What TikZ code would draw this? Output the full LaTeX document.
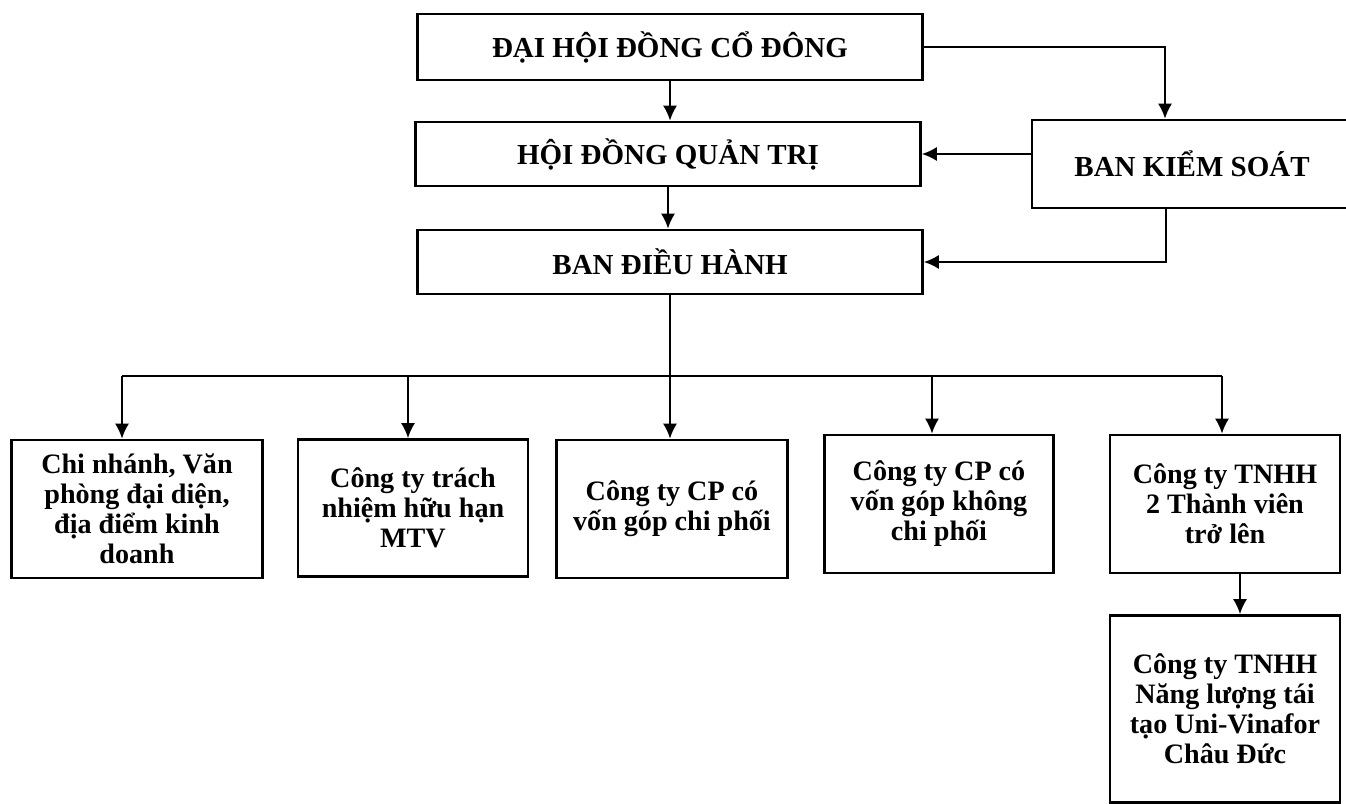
\documentclass[tikz,border=0pt]{standalone}
\usepackage{fontspec}
\setmainfont{Liberation Serif}
\usetikzlibrary{arrows.meta}
\tikzset{
  hop/.style={draw, line width=1.6pt, inner sep=0pt, font=\fontsize{16.5}{19}\selectfont\bfseries},
  donvi/.style={draw, line width=1.6pt, inner sep=0pt, align=center, font=\fontsize{16}{17.1}\selectfont\bfseries},
  noi/.style={line width=1.1pt, >={Latex[length=8.5pt,width=8pt]}},
}
\begin{document}
\begin{tikzpicture}[x=0.02cm,y=-0.02cm]
    \useasboundingbox (0,0) rectangle (1346,804);
    %cac ban
    \node[hop, minimum width=10.1cm, minimum height=1.32cm] (dhdcd) at (670,47) {ĐẠI HỘI ĐỒNG CỔ ĐÔNG};
    \node[hop, minimum width=10.1cm, minimum height=1.28cm] (hdqt) at (668,154) {HỘI ĐỒNG QUẢN TRỊ};
    \node[hop, minimum width=10.1cm, minimum height=1.28cm] (bdh) at (670,262) {BAN ĐIỀU HÀNH};
    \node[hop, minimum width=6.4cm, minimum height=1.76cm] (bks) at (1192,164) {BAN KIỂM SOÁT};
    %don vi
    \node[donvi, minimum width=5.02cm, minimum height=2.76cm] (chinhanh) at (137,509) {Chi nhánh, Văn\\phòng đại diện,\\địa điểm kinh\\doanh};
    \node[donvi, minimum width=4.6cm, minimum height=2.74cm] (mtv) at (413,508) {Công ty trách\\nhiệm hữu hạn\\MTV};
    \node[donvi, minimum width=4.62cm, minimum height=2.76cm] (cpcp) at (672,509) {Công ty CP có\\vốn góp chi phối};
    \node[donvi, minimum width=4.58cm, minimum height=2.76cm] (cpkcp) at (939,504) {Công ty CP có\\vốn góp không\\chi phối};
    \node[donvi, minimum width=4.6cm, minimum height=2.76cm] (tnhh) at (1225,504) {Công ty TNHH\\2 Thành viên\\trở lên};
    \node[donvi, minimum width=4.6cm, minimum height=3.74cm] (chauduc) at (1225,709) {Công ty TNHH\\Năng lượng tái\\tạo Uni-Vinafor\\Châu Đức};
    %mui ten tren
    \draw[noi,->] (dhdcd.south) -- (dhdcd.south |- hdqt.north);
    \draw[noi,->] (hdqt.south) -- (hdqt.south |- bdh.north);
    \draw[noi,->] (dhdcd.east) -| ([xshift=-0.54cm]bks.north);
    \draw[noi,->] (bks.west |- hdqt.east) -- (hdqt.east);
    \draw[noi,->] ([xshift=-0.52cm]bks.south) |- (bdh.east);
    %thanh ngang
    \coordinate (tuc) at (670,376);
    \coordinate (r1) at (122,376);
    \coordinate (r2) at (408,376);
    \coordinate (r3) at (670,376);
    \coordinate (r4) at (932,376);
    \coordinate (r5) at (1222,376);
    \draw[noi] (bdh.south) -- (tuc);
    \draw[noi] (r1) -- (r5);
    \foreach \r/\n in {r1/chinhanh, r2/mtv, r3/cpcp, r4/cpkcp, r5/tnhh}
        \draw[noi,->] (\r) -- (\r |- \n.north);
    \draw[noi,->] ([xshift=0.3cm]tnhh.south) -- ([xshift=0.3cm]chauduc.north);
\end{tikzpicture}
\end{document}
